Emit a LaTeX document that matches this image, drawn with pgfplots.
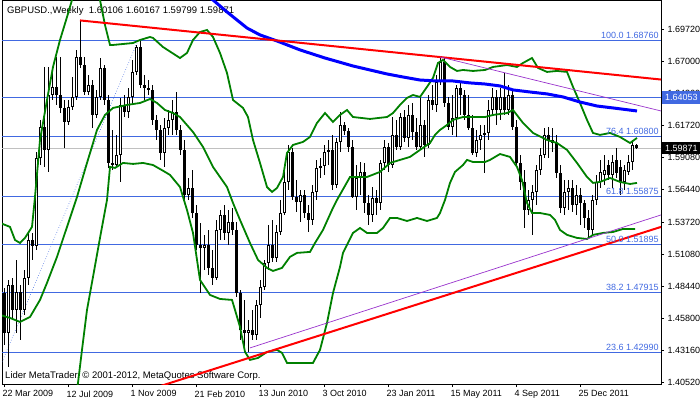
\documentclass[border=0pt]{standalone}
\usepackage{fontspec}
\setmainfont{Liberation Sans}
\usepackage{pgfplots}
\pgfplotsset{compat=1.18}
\usepackage{pgfplotstable}

\definecolor{fibblue}{RGB}{65,105,225}
\definecolor{bbgreen}{RGB}{0,128,0}
\definecolor{mablue}{RGB}{0,0,255}
\definecolor{tlpurple}{RGB}{153,50,204}
\definecolor{pricegray}{RGB}{192,192,192}

\pgfplotstableread{
i O H L C
0 1.4789 1.4830 1.4359 1.4458
1 1.4458 1.4896 1.4177 1.4855
2 1.4855 1.4913 1.4582 1.4648
3 1.4648 1.5062 1.4458 1.4797
4 1.4797 1.4855 1.4400 1.4648
5 1.4648 1.4979 1.4607 1.4913
6 1.4913 1.5285 1.4855 1.5227
7 1.5227 1.5285 1.5062 1.5178
8 1.5178 1.5955 1.5145 1.5905
9 1.5905 1.6220 1.5847 1.6162
10 1.6162 1.6658 1.5831 1.5972
11 1.5972 1.6658 1.5790 1.6426
12 1.6426 1.6633 1.6385 1.6493
13 1.6493 1.6741 1.6344 1.6426
14 1.6426 1.6741 1.6277 1.6319
15 1.6319 1.6385 1.5988 1.6203
16 1.6203 1.6385 1.6178 1.6327
17 1.6327 1.6575 1.6302 1.6410
18 1.6410 1.6799 1.6385 1.6741
19 1.6741 1.7043 1.6650 1.6674
20 1.6674 1.6741 1.6426 1.6451
21 1.6451 1.6592 1.6426 1.6509
22 1.6509 1.6550 1.6153 1.6261
23 1.6261 1.6468 1.6236 1.6410
24 1.6410 1.6732 1.6385 1.6650
25 1.6650 1.6674 1.6344 1.6385
26 1.6385 1.6426 1.5823 1.5864
27 1.5864 1.6137 1.5806 1.5847
28 1.5847 1.6096 1.5823 1.5930
29 1.5930 1.6402 1.5707 1.6344
30 1.6344 1.6426 1.6244 1.6286
31 1.6286 1.6484 1.6236 1.6410
32 1.6410 1.6716 1.6344 1.6617
33 1.6617 1.6840 1.6592 1.6823
34 1.6823 1.6876 1.6484 1.6509
35 1.6509 1.6592 1.6385 1.6484
36 1.6484 1.6550 1.6426 1.6468
37 1.6468 1.6509 1.6178 1.6220
38 1.6220 1.6261 1.6054 1.6137
39 1.6137 1.6178 1.5889 1.5947
40 1.5947 1.6236 1.5831 1.6153
41 1.6153 1.6302 1.6096 1.6220
42 1.6220 1.6385 1.6096 1.6286
43 1.6286 1.6451 1.6096 1.6137
44 1.6137 1.6178 1.5930 1.5972
45 1.5972 1.6054 1.5558 1.5599
46 1.5599 1.5740 1.5558 1.5657
47 1.5657 1.5806 1.5409 1.5450
48 1.5450 1.5517 1.5145 1.5186
49 1.5186 1.5368 1.4789 1.5161
50 1.5161 1.5269 1.4979 1.5186
51 1.5186 1.5310 1.4938 1.4996
52 1.4996 1.5145 1.4855 1.4913
53 1.4913 1.5393 1.4896 1.5310
54 1.5310 1.5475 1.5227 1.5434
55 1.5434 1.5517 1.5227 1.5285
56 1.5285 1.5475 1.5186 1.5376
57 1.5376 1.5492 1.5269 1.5310
58 1.5310 1.5376 1.4756 1.4789
59 1.4789 1.4814 1.4400 1.4483
60 1.4483 1.4731 1.4301 1.4458
61 1.4458 1.4566 1.4301 1.4483
62 1.4483 1.4648 1.4400 1.4442
63 1.4442 1.4731 1.4400 1.4690
64 1.4690 1.4896 1.4582 1.4839
65 1.4839 1.5062 1.4814 1.5037
66 1.5037 1.5351 1.4979 1.5186
67 1.5186 1.5393 1.5045 1.5078
68 1.5078 1.5351 1.5045 1.5293
69 1.5293 1.5558 1.5269 1.5450
70 1.5450 1.5806 1.5434 1.5707
71 1.5707 1.6013 1.5641 1.5955
72 1.5955 1.5988 1.5558 1.5583
73 1.5583 1.5723 1.5459 1.5541
74 1.5541 1.5641 1.5376 1.5599
75 1.5599 1.5641 1.5409 1.5450
76 1.5450 1.5517 1.5293 1.5393
77 1.5393 1.5682 1.5351 1.5624
78 1.5624 1.5889 1.5558 1.5823
79 1.5823 1.5905 1.5740 1.5839
80 1.5839 1.6013 1.5765 1.5955
81 1.5955 1.6054 1.5847 1.5972
82 1.5972 1.6096 1.5641 1.5682
83 1.5682 1.6071 1.5657 1.6038
84 1.6038 1.6286 1.5955 1.6178
85 1.6178 1.6203 1.6096 1.6129
86 1.6129 1.6153 1.5955 1.5996
87 1.5996 1.6054 1.5575 1.5583
88 1.5583 1.5847 1.5475 1.5740
89 1.5740 1.5872 1.5599 1.5790
90 1.5790 1.5864 1.5450 1.5533
91 1.5533 1.5599 1.5351 1.5434
92 1.5434 1.5665 1.5376 1.5575
93 1.5575 1.5641 1.5434 1.5533
94 1.5533 1.5889 1.5475 1.5864
95 1.5864 1.6054 1.5806 1.5996
96 1.5996 1.6029 1.5790 1.5847
97 1.5847 1.6244 1.5823 1.6096
98 1.6096 1.6220 1.5972 1.5996
99 1.5996 1.6277 1.5972 1.6244
100 1.6244 1.6302 1.6038 1.6071
101 1.6071 1.6344 1.5996 1.6261
102 1.6261 1.6360 1.6054 1.6120
103 1.6120 1.6236 1.5972 1.5996
104 1.5996 1.6410 1.5972 1.6178
105 1.6178 1.6220 1.5914 1.6013
106 1.6013 1.6426 1.5988 1.6385
107 1.6385 1.6509 1.6302 1.6344
108 1.6344 1.6592 1.6286 1.6534
109 1.6534 1.6741 1.6509 1.6699
110 1.6699 1.6732 1.6327 1.6360
111 1.6360 1.6410 1.6137 1.6162
112 1.6162 1.6426 1.6096 1.6236
113 1.6236 1.6509 1.6079 1.6484
114 1.6484 1.6526 1.6261 1.6426
115 1.6426 1.6468 1.6220 1.6261
116 1.6261 1.6426 1.6137 1.6153
117 1.6153 1.6261 1.5930 1.5947
118 1.5947 1.6137 1.5914 1.6054
119 1.6054 1.6178 1.5972 1.6096
120 1.6096 1.6178 1.5781 1.6112
121 1.6112 1.6385 1.6054 1.6302
122 1.6302 1.6484 1.6261 1.6410
123 1.6410 1.6468 1.6178 1.6302
124 1.6302 1.6484 1.6220 1.6410
125 1.6410 1.6608 1.6261 1.6302
126 1.6302 1.6509 1.6261 1.6426
127 1.6426 1.6468 1.6137 1.6162
128 1.6162 1.6220 1.5831 1.5864
129 1.5864 1.5930 1.5641 1.5707
130 1.5707 1.5806 1.5326 1.5475
131 1.5475 1.5641 1.5434 1.5558
132 1.5558 1.5682 1.5269 1.5624
133 1.5624 1.5847 1.5517 1.5806
134 1.5806 1.5988 1.5765 1.5930
135 1.5930 1.6153 1.5905 1.6096
136 1.6096 1.6162 1.5905 1.6054
137 1.6054 1.6153 1.5955 1.6029
138 1.6029 1.6096 1.5740 1.5781
139 1.5781 1.5847 1.5450 1.5492
140 1.5492 1.5723 1.5434 1.5624
141 1.5624 1.5723 1.5475 1.5657
142 1.5657 1.5723 1.5459 1.5517
143 1.5517 1.5682 1.5434 1.5599
144 1.5599 1.5657 1.5351 1.5533
145 1.5533 1.5558 1.5326 1.5409
146 1.5409 1.5475 1.5235 1.5310
147 1.5310 1.5599 1.5269 1.5558
148 1.5558 1.5765 1.5517 1.5707
149 1.5707 1.5889 1.5657 1.5790
150 1.5765 1.5930 1.5682 1.5806
151 1.5847 1.5889 1.5723 1.5765
152 1.5765 1.5930 1.5657 1.5872
153 1.5889 1.5988 1.5740 1.5781
154 1.5831 1.5889 1.5599 1.5707
155 1.5707 1.5847 1.5641 1.5806
156 1.5790 1.5930 1.5765 1.5872
157 1.5872 1.6054 1.5806 1.60106
158 1.60106 1.60167 1.59799 1.59871
}\candles

\pgfplotstableread{
i p
50.25 1.7253
52.25 1.7212
55.75 1.7113
60.75 1.6980
64 1.6923
68.25 1.6873
74 1.6799
80.25 1.6732
87.25 1.6666
95.75 1.6600
99.75 1.6575
104 1.6550
108.25 1.6542
112.25 1.6542
116.5 1.6526
120.25 1.6517
124 1.6501
127.25 1.6468
131.5 1.6451
135.75 1.6435
139.75 1.6410
144 1.6368
148.25 1.6335
152.25 1.6319
158.25 1.6294
}\ma

\pgfplotstableread{
i p
-1 1.5368
1.5 1.5335
2.75 1.5227
4 1.5202
5.25 1.5244
7 1.5335
7.75 1.5583
9 1.6054
10.75 1.6385
12.25 1.6658
14 1.6881
15.75 1.7071
17 1.7212
19 1.7419
22 1.7419
24 1.7212
25.25 1.7005
26.5 1.6840
27.25 1.6840
32.25 1.6856
34 1.6881
36.5 1.6906
37.25 1.6898
39.75 1.6823
44 1.6732
45.75 1.6774
47.25 1.6881
49 1.6947
50.75 1.6964
52.25 1.6906
54 1.6774
55.75 1.6608
57.25 1.6385
59.75 1.6319
61 1.6244
62.25 1.6054
64 1.5864
65.75 1.5665
67 1.5624
68.25 1.5657
69.75 1.5748
70.75 1.5947
72.25 1.6013
74.75 1.6038
76.5 1.6079
78.25 1.6195
80.25 1.6277
82.25 1.6203
84 1.6261
85.75 1.6302
87.25 1.6244
91.5 1.6228
95.75 1.6244
97.25 1.6277
99 1.6344
100.75 1.6402
102.25 1.6426
104 1.6410
105.75 1.6493
107.25 1.6567
108.5 1.6691
109.75 1.6716
111.5 1.6658
113.25 1.6625
114.75 1.6633
117.25 1.6625
120.25 1.6633
122.25 1.6658
125.75 1.6674
128.25 1.6658
129.75 1.6691
132 1.6732
133.5 1.6650
135.75 1.6617
138.25 1.6625
140.75 1.6617
142.25 1.6493
144 1.6360
145.75 1.6220
147.25 1.6112
149 1.6096
151.5 1.6112
154 1.6079
156.5 1.6029
158.25 1.6071
}\bbup

\pgfplotstableread{
i p
-1 1.4607
1.5 1.4582
4 1.4549
6.5 1.4590
9 1.4731
10.75 1.4872
13.25 1.5087
15.75 1.5335
18.25 1.5583
20.75 1.5864
23.25 1.6137
25.25 1.6261
27.25 1.6319
30.75 1.6344
34 1.6360
36.5 1.6393
38.25 1.6360
40.25 1.6302
42.25 1.6277
44 1.6244
47.25 1.6120
49.75 1.5996
52.25 1.5831
55.75 1.5665
57.25 1.5533
59 1.5393
61.5 1.5202
63.5 1.5062
65.75 1.4996
67.25 1.4971
69.5 1.4996
71.5 1.5087
73.25 1.5120
76.5 1.5128
77.75 1.5202
79.75 1.5310
82 1.5475
83.25 1.5558
86.5 1.5748
90.75 1.5748
94 1.5790
96.5 1.5864
99 1.5889
101.5 1.5914
104 1.5972
106.5 1.6029
107.75 1.6096
109 1.6137
110.75 1.6178
112.25 1.6220
114.75 1.6244
120.25 1.6244
122.25 1.6261
125.75 1.6277
127.25 1.6302
129.75 1.6195
132.25 1.6112
135.75 1.6054
138.25 1.6029
140.75 1.5972
143.25 1.5864
145.75 1.5748
147.25 1.5699
149 1.5707
151.5 1.5740
154 1.5707
156.5 1.5690
158.25 1.5699
}\bbmid

\pgfplotstableread{
i p
18 1.3945
18.5 1.4045
19.5 1.4318
20.75 1.4648
22.25 1.4921
24 1.5244
25.75 1.5558
26.5 1.5831
27.75 1.5823
29.75 1.5864
32.25 1.5856
34.75 1.5864
37.25 1.5847
40.25 1.5790
41.5 1.5765
44 1.5665
45.75 1.5475
47.25 1.5285
49 1.4896
51.5 1.4772
54 1.4739
57 1.4731
57.75 1.4648
59 1.4508
60.25 1.4301
61.5 1.4235
63.5 1.4251
65.75 1.4301
68.25 1.4318
69.5 1.4293
70.75 1.4210
77.25 1.4210
79 1.4318
80.75 1.4541
82.25 1.4789
84 1.5004
84.75 1.5120
87.25 1.5285
89 1.5326
90.75 1.5285
93.25 1.5285
94.75 1.5326
96.5 1.5409
98.25 1.5409
100.75 1.5384
103.25 1.5409
105.75 1.5384
108.25 1.5409
109 1.5450
110.25 1.5558
111.5 1.5699
112.75 1.5790
114.75 1.5847
115.75 1.5889
117.25 1.5872
120.25 1.5872
121.5 1.5889
124 1.5938
126.5 1.5914
128.25 1.5831
129.5 1.5723
130.75 1.5533
132 1.5450
134 1.5450
136.5 1.5434
137.75 1.5393
139 1.5310
140.75 1.5269
143.25 1.5244
145.75 1.5235
147.25 1.5269
149.75 1.5285
152.25 1.5293
154.75 1.5318
157.75 1.5318
}\bblow

\begin{document}
\begin{tikzpicture}
\begin{axis}[
  at={(0,0)}, anchor=south west,
  width=659pt, height=384pt, scale only axis,
  xmin=-0.5, xmax=164.25,
  ymin=1.40355, ymax=1.72119,
  clip mode=individual,
  axis line style={black, line width=0.8pt},
  tick align=outside,
  major tick length=3pt,
  tick style={black, line width=0.8pt},
  xtick pos=lower,
  ytick pos=right,
  yticklabel pos=right,
  tick label style={font=\fontsize{9}{10}\selectfont},
  xtick={0,16,32,48,64,80,96,112,128,144},
  xticklabels={22 Mar 2009, 12 Jul 2009, 1 Nov 2009, 21 Feb 2010, 13 Jun 2010, 3 Oct 2010, 23 Jan 2011, 15 May 2011, 4 Sep 2011, 25 Dec 2011},
  xticklabel style={anchor=north west, xshift=-5pt},
  ytick={1.4052,1.4316,1.458,1.4844,1.5108,1.5372,1.5644,1.5908,1.6172,1.6436,1.67,1.6972},
  yticklabels={1.40520,1.43160,1.45800,1.48440,1.51080,1.53720,1.56440,1.59080,1.61720,1.64360,1.67000,1.69720},
  yticklabel style={anchor=west},
]
% title and copyright
\node[anchor=west, inner sep=0pt, font=\fontsize{9.5}{11}\selectfont] at (rel axis cs:0.0076,0.9714) {GBPUSD.,Weekly\ \ 1.60106 1.60167 1.59799 1.59871};
\node[anchor=west, inner sep=0pt, font=\fontsize{9.5}{11}\selectfont] at (rel axis cs:0.0046,0.0208) {Lider MetaTrader, © 2001-2012, MetaQuotes Software Corp.};

% horizontal levels
\addplot[fibblue, line width=0.9pt, forget plot] coordinates {(-0.5,1.6876) (164.25,1.6876)};
\addplot[fibblue, line width=0.9pt, forget plot] coordinates {(-0.5,1.64053) (164.25,1.64053)};
\addplot[fibblue, line width=0.9pt, forget plot] coordinates {(-0.5,1.608) (164.25,1.608)};
\addplot[fibblue, line width=0.9pt, forget plot] coordinates {(-0.5,1.55875) (164.25,1.55875)};
\addplot[fibblue, line width=0.9pt, forget plot] coordinates {(-0.5,1.51895) (164.25,1.51895)};
\addplot[fibblue, line width=0.9pt, forget plot] coordinates {(-0.5,1.47915) (164.25,1.47915)};
\addplot[fibblue, line width=0.9pt, forget plot] coordinates {(-0.5,1.4299) (164.25,1.4299)};
\addplot[pricegray, line width=0.9pt, forget plot] coordinates {(-0.5,1.59871) (164.25,1.59871)};
\addplot[fibblue, line width=0.6pt, dotted, forget plot] coordinates {(-0.5,1.4218) (33.5,1.6876)};

% candles: wicks
\addplot[draw=none, mark=none, forget plot,
  error bars/.cd, y dir=plus, y explicit, error mark=none,
  error bar style={draw=black, solid, line width=1pt}]
  table[x=i, y=L, y error expr=\thisrow{H}-\thisrow{L}] {\candles};
% bodies
\addplot[draw=none, mark=none, forget plot,
  error bars/.cd, y dir=plus, y explicit, error mark=none,
  error bar style={draw=black, solid, line width=3pt}]
  table[x=i, y expr={min(\thisrow{O},\thisrow{C})}, y error expr={max(abs(\thisrow{C}-\thisrow{O}),0.0009)}] {\candles};
% hollow interior of rising candles
\addplot[draw=none, mark=none, forget plot,
  restrict expr to domain={\thisrow{C}-\thisrow{O}}{0.0018:1},
  error bars/.cd, y dir=plus, y explicit, error mark=none,
  error bar style={draw=white, solid, line width=1pt, shorten <=1pt, shorten >=1pt}]
  table[x=i, y=O, y error expr=\thisrow{C}-\thisrow{O}] {\candles};

% Bollinger bands
\addplot[bbgreen, line width=1.8pt, forget plot] table[x=i, y=p] {\bbup};
\addplot[bbgreen, line width=1.8pt, forget plot] table[x=i, y=p] {\bbmid};
\addplot[bbgreen, line width=1.8pt, forget plot] table[x=i, y=p] {\bblow};
% moving average
\addplot[mablue, line width=3pt, forget plot] table[x=i, y=p] {\ma};

% trend lines
\addplot[red, line width=2pt, forget plot] coordinates {(19,1.7043) (164.25,1.6554)};
\addplot[red, line width=2pt, forget plot] coordinates {(38,1.4007) (164.25,1.5335)};
\addplot[tlpurple, line width=0.7pt, forget plot] coordinates {(61.5,1.4334) (164.25,1.5434)};
\addplot[tlpurple, line width=0.7pt, forget plot] coordinates {(109,1.6741) (164.25,1.6294)};

% Fibonacci labels
\begin{scope}[every node/.style={anchor=base east, inner sep=0pt, yshift=2pt, text=fibblue, font=\fontsize{9}{10}\selectfont}]
\node at (axis cs:163.7,1.6876) {100.0 1.68760};
\node at (axis cs:163.7,1.608) {76.4 1.60800};
\node at (axis cs:163.7,1.55875) {61.8 1.55875};
\node at (axis cs:163.7,1.51895) {50.0 1.51895};
\node at (axis cs:163.7,1.47915) {38.2 1.47915};
\node at (axis cs:163.7,1.4299) {23.6 1.42990};
\end{scope}
\end{axis}
% price boxes on the right scale
\node[fill=fibblue, text=white, anchor=west, inner xsep=3pt, inner ysep=0pt, minimum height=13pt, font=\fontsize{9}{10}\selectfont] at (660pt,286.49pt) {1.64053};
\node[fill=black, text=white, anchor=west, inner xsep=3pt, inner ysep=0pt, minimum height=12pt, font=\fontsize{9}{10}\selectfont] at (660pt,235.93pt) {1.59871};
\pgfresetboundingbox
\path[use as bounding box] (-2pt,-18pt) rectangle (698pt,384pt);
\end{tikzpicture}
\end{document}
